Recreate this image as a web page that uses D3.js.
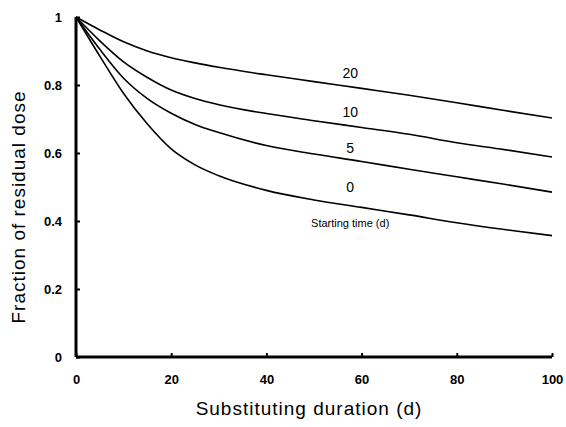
<!DOCTYPE html>
<html>
<head>
<meta charset="utf-8">
<script src="https://cdn.jsdelivr.net/npm/d3@7"></script>
<style>
  body { margin: 0; background: #fff; }
  svg { display: block; font-family: "Liberation Sans", Arial, sans-serif; }
  .tick text { font-weight: bold; font-size: 13px; fill: #000; }
</style>
</head>
<body>
<svg id="chart" width="566" height="427"></svg>
<script>
// substituting duration (d)
const days = [0, 5, 10, 15, 20, 25, 30, 40, 50, 60, 70, 80, 90, 100];
// fraction of residual dose for each starting time (d)
const start0  = [1, 0.885, 0.775, 0.685, 0.612, 0.565, 0.533, 0.49, 0.462, 0.44, 0.418, 0.395, 0.375, 0.357];
const start5  = [1, 0.905, 0.82, 0.76, 0.717, 0.684, 0.66, 0.622, 0.597, 0.575, 0.552, 0.53, 0.508, 0.485];
const start10 = [1, 0.93, 0.868, 0.822, 0.785, 0.76, 0.742, 0.716, 0.695, 0.675, 0.655, 0.63, 0.61, 0.588];
const start20 = [1, 0.962, 0.927, 0.9, 0.88, 0.865, 0.852, 0.83, 0.81, 0.79, 0.77, 0.748, 0.725, 0.703];
const seriesNames = ["0", "5", "10", "20"];
const xTicks = [0, 20, 40, 60, 80, 100];
const yTicks = [0, 0.2, 0.4, 0.6, 0.8, 1];

let margin = {top: 17, right: 14, bottom: 70, left: 76};
let width = 566 - margin.left - margin.right;
let height = 427 - margin.top - margin.bottom;

let svg = d3.select("#chart");
let plot = svg.append("g")
    .attr("transform", "translate(" + margin.left + "," + margin.top + ")");

let xScale = d3.scaleLinear().domain([0, 100]).range([0, width]);
let yScale = d3.scaleLinear().domain([0, 1]).range([height, 0]);

/* axes: ticks point inward, labels pushed out */
let xAxis = d3.axisBottom(xScale)
    .tickValues(xTicks)
    .tickSize(-4)
    .tickPadding(18)
    .tickFormat(d3.format("d"));
let yAxis = d3.axisLeft(yScale)
    .tickValues(yTicks)
    .tickSize(-4)
    .tickPadding(14)
    .tickFormat(function (d) { return d === 0 || d === 1 ? d : d3.format(".1f")(d); });

let gx = plot.append("g")
    .attr("transform", "translate(0," + height + ")")
    .call(xAxis);
let gy = plot.append("g").call(yAxis);

[gx, gy].forEach(function (g) {
    g.select(".domain").attr("stroke", "#000").attr("stroke-width", 3);
    g.selectAll(".tick line").attr("stroke", "#000").attr("stroke-width", 2);
});
gy.select(".domain").attr("d", "M0," + height + "V0");
gx.select(".domain").attr("d", "M0,0H" + width);

/* curves */
let line = d3.line()
    .x(function (d) { return xScale(d[0]); })
    .y(function (d) { return yScale(d[1]); })
    .curve(d3.curveMonotoneX);

[start0, start5, start10, start20].forEach(function (vals) {
    plot.append("path")
        .datum(days.map(function (d, i) { return [d, vals[i]]; }))
        .attr("fill", "none")
        .attr("stroke", "#000")
        .attr("stroke-width", 1.6)
        .attr("d", line);
});

/* curve labels */
const labelX = 57.6;
const labelY = [0.5, 0.615, 0.72, 0.835];
seriesNames.forEach(function (name, i) {
    plot.append("text")
        .attr("x", xScale(labelX))
        .attr("y", yScale(labelY[i]))
        .attr("dy", "0.35em")
        .attr("text-anchor", "middle")
        .attr("font-size", 14)
        .text(name);
});
plot.append("text")
    .attr("x", xScale(labelX))
    .attr("y", yScale(0.394))
    .attr("dy", "0.35em")
    .attr("text-anchor", "middle")
    .attr("font-size", 11)
    .text("Starting time (d)");

/* axis titles */
svg.append("text")
    .attr("x", margin.left + width / 2 - 5)
    .attr("y", 408)
    .attr("dy", "0.35em")
    .attr("text-anchor", "middle")
    .attr("font-size", 19)
    .attr("letter-spacing", 1)
    .text("Substituting duration (d)");

svg.append("text")
    .attr("transform", "translate(18," + (margin.top + height / 2 + 20) + ") rotate(-90)")
    .attr("dy", "0.35em")
    .attr("text-anchor", "middle")
    .attr("font-size", 19)
    .attr("letter-spacing", 1)
    .text("Fraction of residual dose");
</script>
</body>
</html>
